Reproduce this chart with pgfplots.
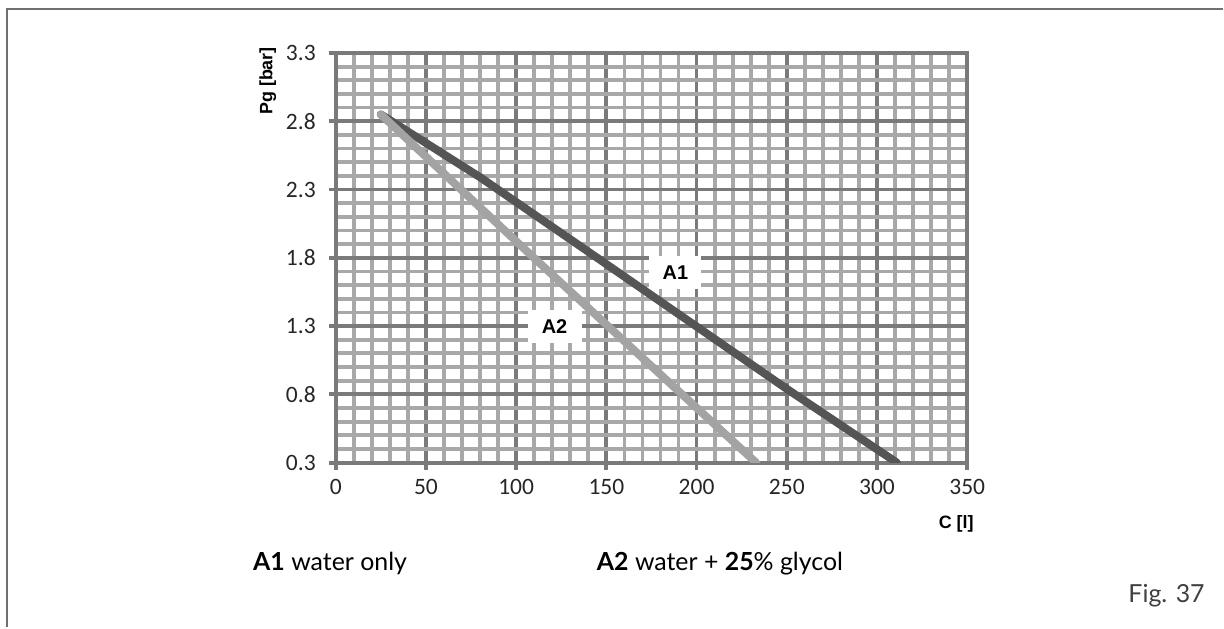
\documentclass[border=0pt]{standalone}
\usepackage{fontspec}
\usepackage{pgfplots}
\pgfplotsset{compat=1.18}
\setmainfont{Lato}
\newfontfamily\carlito{Carlito}
\newfontfamily\arial{Liberation Sans}
\definecolor{gmajor}{HTML}{7A7A7A}
\definecolor{gminor}{HTML}{A8A8A8}
\definecolor{darkser}{HTML}{555555}
\definecolor{lightser}{HTML}{A3A3A3}
\definecolor{framec}{HTML}{707070}

\begin{document}
\begin{tikzpicture}
\path (0,0) rectangle (612bp,-314bp);
\draw[framec, line width=1bp] (3.5bp,-314bp) -- (3.5bp,-4.5bp) -- (612bp,-4.5bp);
\begin{axis}[
  at={(168bp,-231.5bp)}, anchor=south west,
  scale only axis, width=316bp, height=205bp,
  xmin=0, xmax=350, ymin=0.3, ymax=3.3,
  xtick={0,50,...,350},
  ytick={0.3,0.8,1.3,1.8,2.3,2.8,3.3},
  xticklabels={0,50,100,150,200,250,300,350},
  yticklabels={0.3,0.8,1.3,1.8,2.3,2.8,3.3},
  minor x tick num=4, minor y tick num=4,
  grid=both,
  major grid style={draw=gmajor, line width=1.9bp},
  minor grid style={draw=gminor, line width=1.9bp},
  axis line style={draw=gmajor, line width=1.9bp},
  tick align=outside, tick pos=left,
  major tick length=3.5bp, minor tick length=0pt,
  every tick/.style={draw=gmajor, line width=1.9bp},
  ticklabel style={font=\carlito\fontsize{11.8}{13}\selectfont, text=black!85},
  xticklabel style={yshift=-1.5bp},
  yticklabel style={xshift=-3bp},
]
% A1 water only
\addplot[darkser, line width=4bp, line cap=round] coordinates {
(25,2.85) (80,2.39) (146,1.79) (250,0.84) (311,0.3)
};
% A2 water + 25% glycol
\addplot[lightser, line width=4bp, line cap=round] coordinates {
(25,2.85) (109,1.81) (233,0.3)
};
\node[fill=white, font=\arial\bfseries\fontsize{10}{11}\selectfont, minimum width=26bp, minimum height=16.5bp, inner sep=0pt] at (axis cs:188.3,1.69) {A1};
\node[fill=white, font=\arial\bfseries\fontsize{10}{11}\selectfont, minimum width=27bp, minimum height=16.5bp, inner sep=0pt] at (axis cs:121.3,1.30) {A2};
\end{axis}
\node[rotate=90, font=\arial\bfseries\fontsize{9}{11}\selectfont] at (134bp,-40.5bp) {Pg [bar]};
\node[font=\arial\bfseries\fontsize{9}{11}\selectfont] at (478.5bp,-262bp) {C [l]};
\node[anchor=base west, inner sep=0pt, font=\fontsize{12.5}{14}\selectfont] at (126.5bp,-285.5bp) {\textbf{A1} water only};
\node[anchor=base west, inner sep=0pt, font=\fontsize{12.5}{14}\selectfont] at (298.5bp,-285.5bp) {\textbf{A2} water + \textbf{25}\% glycol};
\node[anchor=base west, inner sep=0pt, text=black!75, font=\fontsize{12.5}{14}\selectfont] at (564.5bp,-301.5bp) {Fig. 37};
\end{tikzpicture}
\end{document}
